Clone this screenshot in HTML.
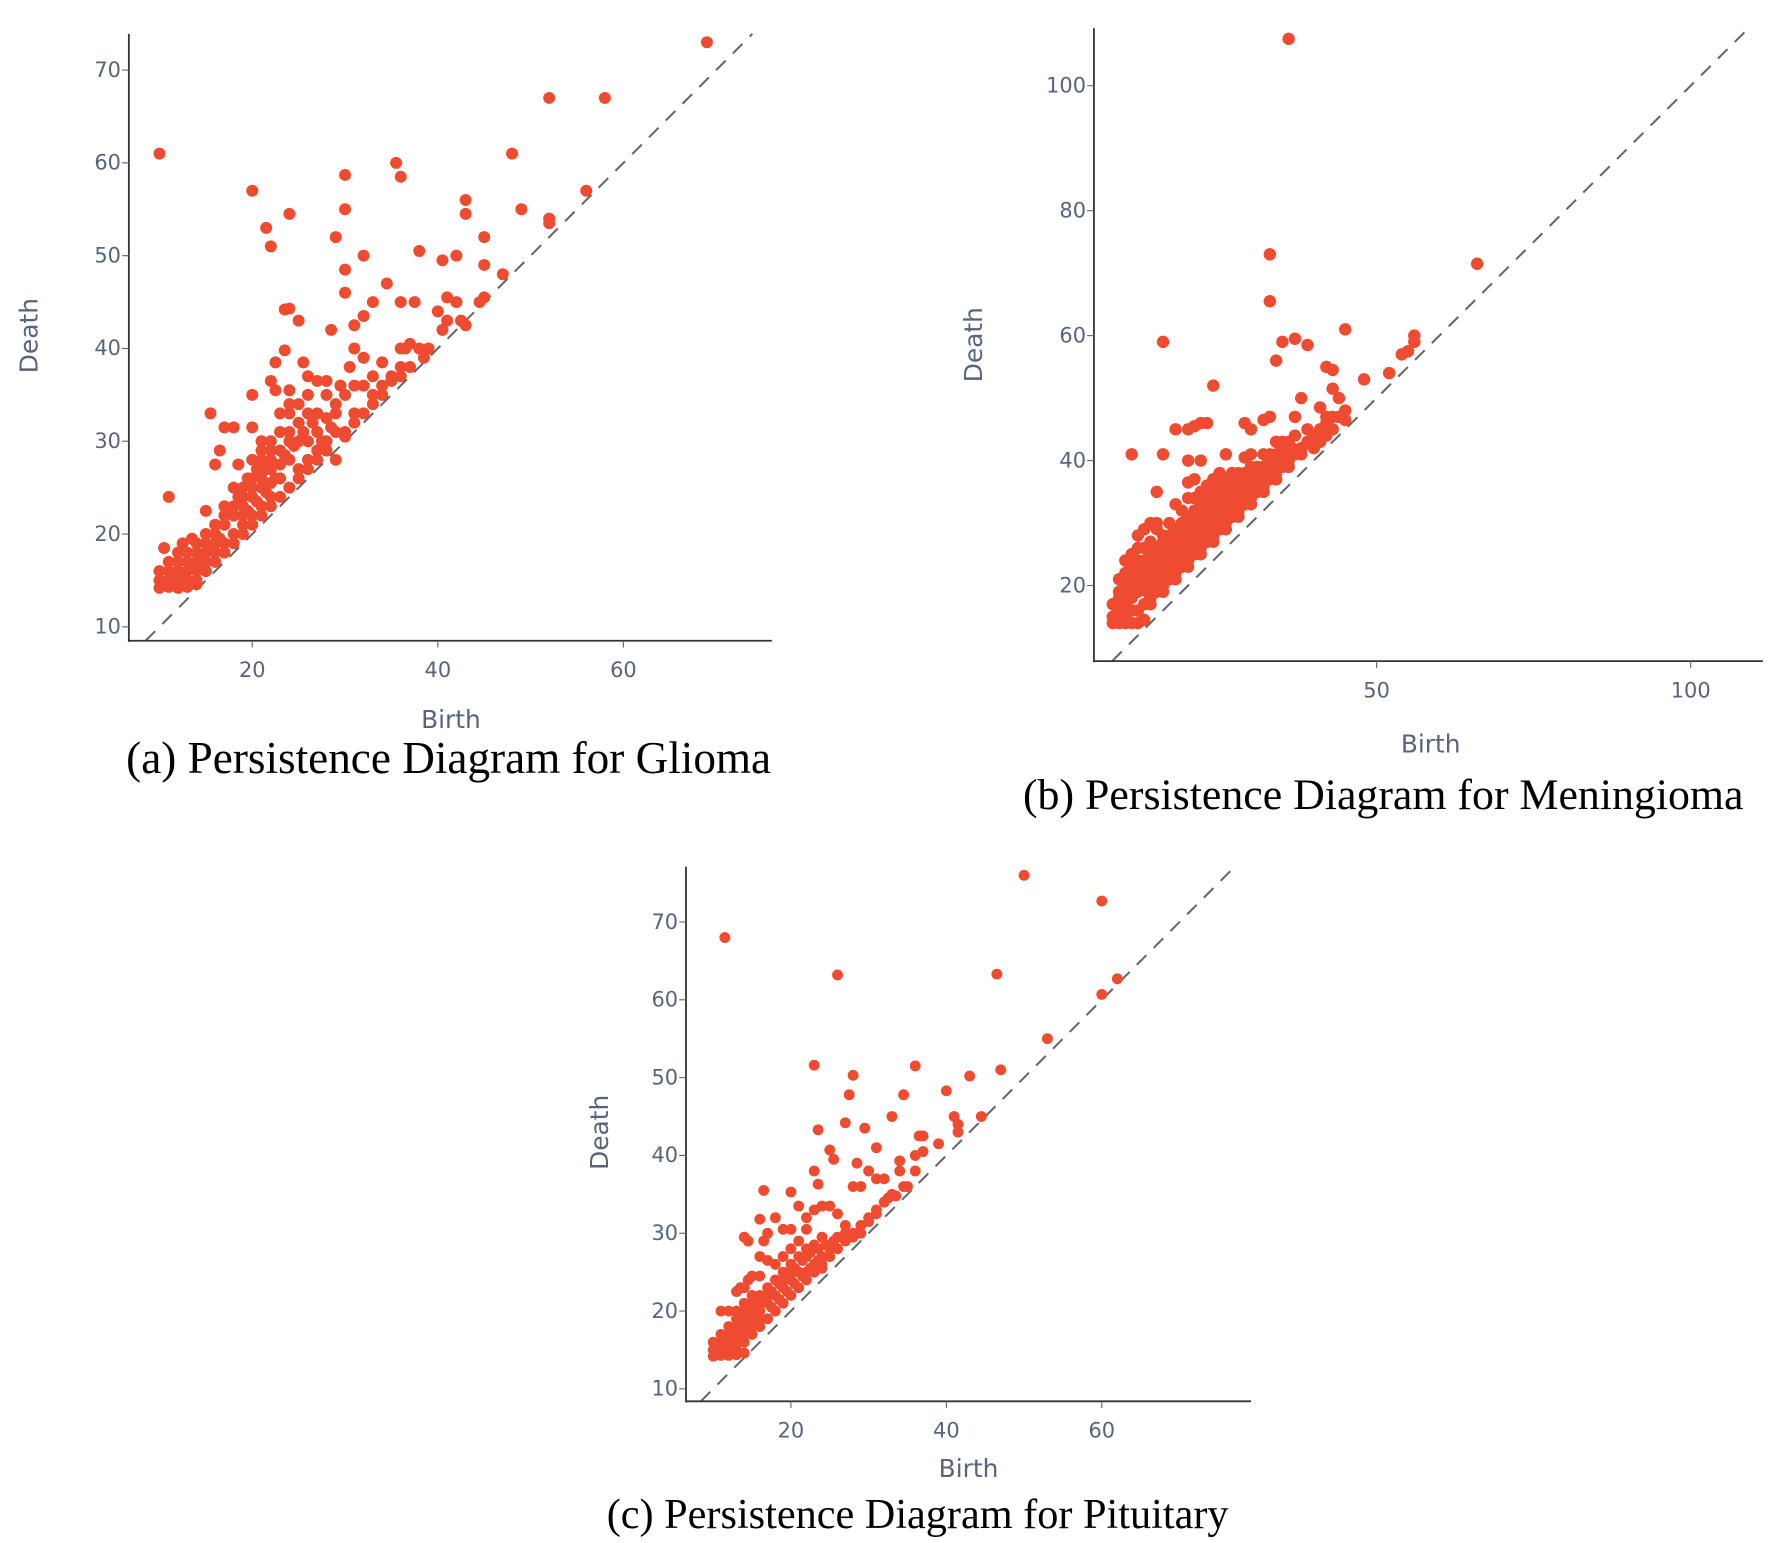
<!DOCTYPE html>
<html><head><meta charset="utf-8">
<style>
html,body{margin:0;padding:0;background:#fff;}
svg{display:block;}
.tick{font-family:"DejaVu Sans","Liberation Sans",sans-serif;font-size:18.5px;fill:#5a6478;}
.atitle{font-family:"DejaVu Sans","Liberation Sans",sans-serif;font-size:22px;fill:#5a6478;}
.cap{font-family:"Liberation Serif",serif;fill:#000;}
</style></head>
<body>
<svg id="fig" width="1772" height="1543" viewBox="0 0 1568 1365.4" xmlns="http://www.w3.org/2000/svg"></svg>
<script>
// ---- data (birth, death) ----
const gliomaPoints = [[10,61],[69,73],[52,67],[58,67],[48,61],[56,57],[52,54],[52,53.5],[49,55],[45,52],[45,49],[43,56],[43,54.5],[42,50],[40.5,49.5],[35.5,60],[36,58.5],[30,58.7],[30,55],[20,57],[21.5,53],[22,51],[24,54.5],[29,52],[30,48.5],[30,46],[32,50],[34.5,47],[33,45],[36,45],[37.5,45],[38,50.5],[47,48],[45,45.5],[44.5,45],[41,45.5],[42,45],[40,44],[41,43],[42.5,43],[43,42.5],[40.5,42],[23.5,44.2],[24,44.3],[25,43],[28.5,42],[31,42.5],[32,43.5],[31,40],[32,39],[23.5,39.8],[22.5,38.5],[25.5,38.5],[20,35],[22,36.5],[22.5,35.5],[24,35.5],[26,37],[27,36.5],[28,36.5],[29.5,36],[30.5,38],[34,38.5],[35,37],[36.5,40],[37,40.5],[36,40],[38,40],[38.5,39],[36,38],[36,37],[15.5,33],[17,31.5],[18,31.5],[20,31.5],[21,30],[22,29],[16.5,29],[16,27.5],[18.5,27.5],[18,25],[15,22.5],[11,24],[10.5,18.5],[12.5,19],[13.5,19.5],[17,23],[19,22],[20,22],[23,26],[24,28],[25,27],[25,32],[26,30],[27,31],[28,30],[28,32.5],[29,33],[30,30.5],[31,32],[32,33],[33,34],[34,35],[26,28],[27,29],[29,28],[22,24],[21,23],[19,21],[17,19],[16,18],[15,17],[14,16],[13,15],[12,14.5],[11,14.3],[10,14.2],[12,16],[13,17],[14,18],[15,19],[16,20],[17,21],[18,20],[19,24],[20,25],[21,26],[22,27],[23,27.5],[24,25],[23,24],[22,23],[25,26],[26,27],[27,28],[28,29],[29,31],[30,31],[31,33],[33,35],[34,36],[35,36.5],[37,38],[39,40],[11,15],[12,15.5],[13,14.5],[14,15],[15,16],[16,17],[17,18],[18,19],[19,20],[20,21],[21,22],[11,16],[12,17],[13,18],[14,17],[15,18],[16,19],[10,15],[10,16],[11,17],[12,18],[20,28],[21,28],[22,30],[23,31],[24,31],[23,33],[24,33],[25,34],[26,33],[27,33],[18,22],[19,23],[20,24],[21,25],[22,25.5],[20,26],[19,25],[21,29],[26,35],[24,34],[28,35],[29,34],[30,35],[31,36],[32,36],[33,37],[25,30],[24,30],[23,29],[22,28],[18,23],[17,22],[16,21],[15,20],[14,19],[13,16],[14,16.5],[11,14.5],[12,14.2],[13,14.3],[14,14.6],[10.5,14.8],[11.5,15.5],[17.5,22.5],[18.5,24],[19.5,22.5],[20.5,23.5],[21.5,24.5],[22.5,26],[23.5,28.5],[24.5,29.5],[25.5,31],[26.5,32],[27.5,30],[28.5,31.5],[21.5,27],[20.5,27],[19.5,26],[16.5,19.5],[15.5,18.5],[14.5,17.5],[13.5,16.5],[12.5,15.5]];
const meningiomaPoints = [[36,107.5],[33,73],[33,65.5],[66,71.5],[16,59],[35,59],[37,59.5],[39,58.5],[34,56],[45,61],[56,60],[56,59],[55,57.5],[54,57],[48,53],[52,54],[42,55],[43,54.5],[43,51.5],[44,50],[38,50],[41,48.5],[42,47],[45,48],[45,46.5],[37,47],[33,47],[32,46.5],[24,52],[22,46],[23,46],[21,45.5],[20,45],[29,46],[30,45],[18,45],[11,41],[16,41],[20,40],[22,40],[29,40.5],[30,41],[26,41],[25,38],[27,38],[21,37],[20,36.5],[15,35],[14,30],[15,30],[13,29],[12,28],[8,14],[9,14],[10,14],[11,14],[12,14],[13,14.5],[8,15],[9,16],[10,17],[11,18],[12,19],[8,17],[9,18],[10,19],[11,20],[9,21],[10,22],[11,23],[12,24],[10,24],[11,25],[12,22],[13,20],[14,21],[15,22],[16,23],[17,24],[18,25],[19,26],[20,27],[21,28],[22,29],[23,30],[24,31],[25,32],[26,33],[27,34],[28,35],[29,36],[30,37],[31,38],[32,39],[33,40],[34,41],[35,42],[36,43],[13,17],[14,18],[15,19],[16,20],[17,21],[18,22],[19,23],[20,24],[21,25],[22,26],[23,27],[24,28],[25,29],[26,30],[27,31],[28,32],[29,33],[30,34],[31,35],[32,36],[33,37],[34,38],[35,39],[36,40],[37,41],[38,42],[39,43],[40,44],[41,45],[42,46],[43,47],[44,47],[13,24],[14,25],[15,26],[16,27],[17,28],[18,29],[19,30],[20,31],[21,32],[22,33],[23,34],[24,35],[25,36],[26,37],[15,29],[17,30],[19,32],[21,34],[23,36],[18,33],[20,34],[22,35],[24,37],[12,26],[14,27],[16,28],[13,22],[15,24],[17,26],[19,28],[21,30],[23,32],[25,34],[27,36],[29,38],[31,39],[33,41],[35,43],[37,44],[39,45],[40,42],[38,41],[36,39],[34,37],[32,35],[30,33],[28,31],[26,29],[24,27],[22,25],[20,23],[18,21],[16,19],[14,17],[12,16],[10,15],[9,15],[11,16],[41,43],[43,45],[42,44],[30,39],[28,38],[32,41],[34,43],[10,20],[11,21],[12,21],[13,26],[14,23],[16,25],[18,27],[20,29],[22,31],[24,33],[26,35],[28,37],[9,19],[10,21],[12,23],[13.5,19],[14.5,20],[15.5,21],[16.5,22],[17.5,23],[18.5,24],[19.5,25],[20.5,26],[21.5,27],[22.5,28],[23.5,29],[24.5,30],[25.5,31],[26.5,32],[27.5,33],[28.5,34],[29.5,35],[30.5,36],[31.5,37],[32.5,38],[33.5,39],[34.5,40],[35.5,41],[36.5,42],[14.5,24],[16.5,26],[18.5,28],[20.5,30],[22.5,32],[24.5,34],[26.5,36],[9.5,17],[10.5,18],[11.5,19],[12.5,20]];
const pituitaryPoints = [[11.5,68],[26,63.2],[46.5,63.3],[50,76],[60,72.7],[62,62.7],[60,60.7],[53,55],[47,51],[43,50.2],[36,51.5],[23,51.6],[28,50.3],[27.5,47.8],[34.5,47.8],[40,48.3],[33,45],[27,44.2],[29.5,43.5],[23.5,43.3],[25,40.7],[25.5,39.5],[31,41],[28.5,39],[23,38],[23.5,36.3],[16.5,35.5],[20,35.3],[30,38],[31,37],[32,37],[34,39.3],[34,38],[34.5,36],[36,40],[37,40.5],[37,42.5],[36.5,42.5],[39,41.5],[41,45],[41.5,44],[41.5,43],[44.5,45],[28,36],[29,36],[32.5,34.5],[33.5,34.8],[22,30.5],[20,30.5],[19,30.5],[18,32],[16,31.8],[14,29.5],[14.5,29],[16.5,29],[17,30],[16,27],[17,26.5],[21,33.5],[22,32],[23,33],[24,33.5],[25,33.5],[26,32.5],[27,31],[26,29.5],[24,29.5],[23,28.5],[29,31],[30,32],[31,32.5],[27,29],[28,30],[29,30],[13,22.5],[11,20],[12,20],[14,23],[15,24.5],[16,24.5],[15,22],[16,21],[17,22],[18,22],[19,23],[20,24],[21,25],[22,25],[23,26],[24,27],[25,28],[18,20],[19,21],[20,22],[21,23],[22,24],[23,25],[24,26],[17,19],[16,18],[15,17],[14,16],[13,15],[12,14.5],[11,14.3],[10,14.2],[11,15],[12,16],[13,17],[14,18],[15,19],[16,20],[17,21],[10,15],[11,16],[12,17],[13,18],[14,19],[15,20],[13,19],[12,18],[14,20],[15,21],[16,22],[17,23],[18,24],[19,25],[20,26],[21,27],[22,28],[18,26],[19,27],[20,28],[21,29],[22,27],[20,25],[19,24],[25,27],[26,28],[27,30],[28,29.5],[24,25.5],[12,15],[13,16],[14,17],[15,18],[16,19],[30,31.5],[31,33],[32,34],[33,35],[35,36],[36,38],[14,21],[13,20],[11,17],[10,16],[12,14.3],[13,14.4],[14,14.6],[10.5,14.8],[12.5,17.5],[13.5,18.5],[14.5,19.5],[15.5,20.5],[16.5,21.5],[17.5,22.5],[18.5,23.5],[19.5,24.5],[20.5,25.5],[21.5,26.5],[22.5,27.5],[23.5,28],[24.5,28.5],[25.5,29],[17.5,20.5],[18.5,21.5],[19.5,22.5],[20.5,23.5],[21.5,24.5],[22.5,25.5],[23.5,26.5],[14.5,24],[13.5,23]];
const ticksA_x = [20,40,60], ticksA_y = [10,20,30,40,50,60,70];
const ticksB_x = [50,100], ticksB_y = [20,40,60,80,100];
const ticksC_x = [20,40,60], ticksC_y = [10,20,30,40,50,60,70];

const NS = "http://www.w3.org/2000/svg";
const fig = document.getElementById('fig');
function mk(tag, attrs, parent){
  const e = document.createElementNS(NS, tag);
  for (const k in attrs) e.setAttribute(k, attrs[k]);
  parent.appendChild(e); return e;
}
function drawChart(c, pts, tx, ty, key){
  const g = mk('g', {}, fig);
  
  
  const sx = v => c.L + (v - c.x0) / (c.x1 - c.x0) * (c.R - c.L);
  const sy = v => c.B - (v - c.y0) / (c.y1 - c.y0) * (c.B - c.T);
  const dmin = Math.max(c.x0, c.y0), dmax = Math.min(c.x1, c.y1);
  const diag = mk('line', {x1:sx(dmin), y1:sy(dmin), x2:sx(dmax), y2:sy(dmax), stroke:'#666', 'stroke-width':1.8, 'stroke-dasharray':'12,9'}, g);
  
  
  const pg = mk('g', {}, g);
  
  
  pts.forEach(p => {
    const d = mk('circle', {cx:sx(p[0]), cy:sy(p[1]), r:c.r, fill:'#ee4b30'}, pg);
    
    
  });
  const ya = mk('line', {x1:c.L, y1:c.T, x2:c.L, y2:c.B+1, stroke:'#333', 'stroke-width':1.6}, g);
  
  
  const xa = mk('line', {x1:c.L, y1:c.B, x2:c.R, y2:c.B, stroke:'#333', 'stroke-width':1.6}, g);
  
  
  tx.forEach(v => {
    mk('line', {x1:sx(v), y1:c.B, x2:sx(v), y2:c.B+6, stroke:'#666', 'stroke-width':1}, g);
    const t = mk('text', {x:sx(v), y:c.B+32, 'text-anchor':'middle', class:'tick'}, g);
    t.textContent = v;
    
    
  });
  ty.forEach(v => {
    mk('line', {x1:c.L-6, y1:sy(v), x2:c.L, y2:sy(v), stroke:'#666', 'stroke-width':1}, g);
    const t = mk('text', {x:c.L-7, y:sy(v)+6, 'text-anchor':'end', class:'tick'}, g);
    t.textContent = v;
    
    
  });
  const xt = mk('text', {x:c.bx, y:c.by, 'text-anchor':'middle', class:'atitle'}, g);
  xt.textContent = 'Birth';
  
  
  const yt = mk('text', {x:0, y:0, 'text-anchor':'middle', class:'atitle', transform:`translate(${c.dx},${c.dy}) rotate(-90)`}, g);
  yt.textContent = 'Death';
  
  
  const cp = mk('text', {x:c.cx, y:c.cy, 'text-anchor':'middle', class:'cap', 'font-size':c.fs}, g);
  cp.textContent = c.caption;
  
  
}
drawChart({L:114,R:683,T:30,B:567,x0:6.7,x1:76,y0:8.5,y1:73.9,r:5.3,bx:399,by:644,dx:33,dy:297,cx:397,cy:684,fs:40,caption:'(a) Persistence Diagram for Glioma'}, gliomaPoints, ticksA_x, ticksA_y, 'glioma');
drawChart({L:968,R:1560,T:25,B:585,x0:5,x1:111.5,y0:7.9,y1:109.2,r:5.5,bx:1266,by:666,dx:869,dy:305,cx:1224,cy:716,fs:38.8,caption:'(b) Persistence Diagram for Meningioma'}, meningiomaPoints, ticksB_x, ticksB_y, 'meningioma');
drawChart({L:607,R:1107,T:767,B:1240,x0:6.5,x1:79.2,y0:8.4,y1:77.1,r:4.8,bx:857,by:1307,dx:538,dy:1002,cx:812,cy:1352,fs:37.4,caption:'(c) Persistence Diagram for Pituitary'}, pituitaryPoints, ticksC_x, ticksC_y, 'pituitary');
</script>
</body></html>
